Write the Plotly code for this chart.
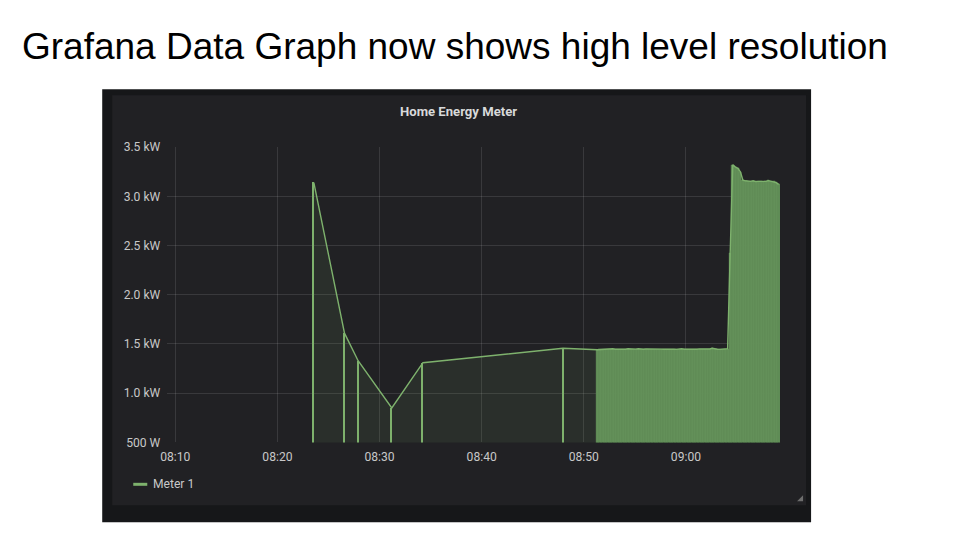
import plotly.graph_objects as go
import pandas as pd

# ---- data ----
DAY = "2018-03-10 "
sparse_times = ["08:23:34", "08:26:34", "08:27:54", "08:31:12", "08:34:15", "08:47:58"]
sparse_values = [3140, 1610, 1330, 850, 1310, 1456]

dense_start = "08:51:20"
dense_step = "15s"
dense_values = [
    1442, 1444, 1445, 1446, 1447, 1448, 1452, 1447, 1446, 1450,
    1448, 1447, 1452, 1449, 1446, 1448, 1451, 1447, 1446, 1449,
    1450, 1447, 1445, 1449, 1452, 1448, 1446, 1447, 1450, 1448,
    1446, 1445, 1449, 1451, 1447, 1446, 1448, 1447, 1445, 1446,
    1450, 1448, 1447, 1446, 1449, 1456, 1448, 1446, 1445, 1447,
    1449, 1452,
    2420, 3320, 3300, 3285, 3250, 3165, 3158, 3155, 3152, 3158,
    3150, 3152, 3150, 3148, 3152, 3160, 3152, 3150, 3140, 3122,
]

y_ticks = [500, 1000, 1500, 2000, 2500, 3000, 3500]
y_tick_labels = ["500 W", "1.0 kW", "1.5 kW", "2.0 kW", "2.5 kW", "3.0 kW", "3.5 kW"]
x_range = [DAY + "08:09:13", DAY + "09:09:13"]
series_name = "Meter 1"
panel_title = "Home Energy Meter"
slide_title = "Grafana Data Graph now shows high level resolution"

# ---- build ----
s_t = pd.to_datetime([DAY + t for t in sparse_times])
d_t = pd.date_range(DAY + dense_start, periods=len(dense_values), freq=dense_step)
all_t = list(s_t) + list(d_t)
all_v = sparse_values + dense_values

W, H = 960, 540
# map target screen pixels to paper fractions (compensates the capture framing)
SX, OX = 0.9915, 6.9
SY, OY = 0.9765, 5.5
px = lambda x: ((x - OX) / SX) / W
py = lambda y: 1 - ((y - OY) / SY) / H
FS = 1.0 / SX

LINE = "#7eb26d"
GRID = "rgba(255,255,255,0.11)"
TXT = "#c8c8c8"

fig = go.Figure()

fig.add_trace(go.Bar(x=list(s_t), y=sparse_values, width=[8000] * len(sparse_values),
                     marker=dict(color=LINE, line=dict(width=0)), hoverinfo="skip"))
fig.add_trace(go.Bar(x=list(d_t), y=dense_values, width=[15000] * len(dense_values),
                     marker=dict(color="#5e8b55", line=dict(width=0.4, color="#6a9a5f")),
                     hoverinfo="skip"))
fig.add_trace(go.Scatter(x=all_t, y=all_v, mode="lines", name=series_name,
                         line=dict(color=LINE, width=1.4),
                         fill="tozeroy", fillcolor="rgba(126,178,109,0.1)"))

shapes = [
    dict(type="rect", xref="paper", yref="paper", x0=px(102), x1=px(810), y0=py(522), y1=py(88),
         fillcolor="#161719", line=dict(width=0), layer="below"),
    dict(type="rect", xref="paper", yref="paper", x0=px(112), x1=px(805), y0=py(505), y1=py(94),
         fillcolor="#212124", line=dict(width=0), layer="below"),
    dict(type="rect", xref="paper", yref="paper", x0=px(133), x1=px(147), y0=py(485.5), y1=py(482.5),
         fillcolor=LINE, line=dict(width=0)),
    dict(type="path", xref="paper", yref="paper",
         path=f"M {px(802)} {py(495)} L {px(802)} {py(501)} L {px(796)} {py(501)} Z",
         fillcolor="#6e6e6e", line=dict(width=0)),
]

annotations = [
    dict(text=slide_title, xref="paper", yref="paper", x=px(20), y=py(45),
         xanchor="left", yanchor="middle", showarrow=False,
         font=dict(family="Liberation Sans, Arial", size=37, color="#000000")),
    dict(text="<b>" + panel_title + "</b>", xref="paper", yref="paper", x=px(458), y=py(110),
         xanchor="center", yanchor="middle", showarrow=False,
         font=dict(family="Roboto", size=13 * FS, color="#d8d9da")),
    dict(text=series_name, xref="paper", yref="paper", x=px(151), y=py(484),
         xanchor="left", yanchor="middle", showarrow=False,
         font=dict(family="Roboto", size=12 * FS, color=TXT)),
]

fig.update_layout(
    width=W, height=H, margin=dict(l=0, r=0, t=0, b=0),
    paper_bgcolor="#ffffff", plot_bgcolor="rgba(0,0,0,0)",
    showlegend=False, barmode="overlay", bargap=0,
    shapes=shapes, annotations=annotations,
    xaxis=dict(domain=[px(167), px(779)], type="date", range=x_range,
               tick0=DAY + "08:10", dtick=600000, tickformat="%H:%M",
               showgrid=True, gridcolor=GRID, gridwidth=1, zeroline=False,
               showline=False, ticks="", ticklabelstandoff=5,
               tickfont=dict(family="Roboto", size=12 * FS, color=TXT), fixedrange=True),
    yaxis=dict(domain=[py(442), py(146)], range=[500, 3500],
               tickvals=y_ticks, ticktext=y_tick_labels,
               showgrid=True, gridcolor=GRID, gridwidth=1, zeroline=False,
               showline=False, ticks="", ticklabelstandoff=6,
               tickfont=dict(family="Roboto", size=12 * FS, color=TXT), fixedrange=True),
)

page_fix = (
    "var s=document.createElement('style');"
    "s.textContent='html,body{margin:0!important;padding:0!important;width:960px;height:540px;overflow:hidden;}';"
    "document.head.appendChild(s);"
)
fig.write_html("out.html", config={"displayModeBar": False}, post_script=page_fix)
